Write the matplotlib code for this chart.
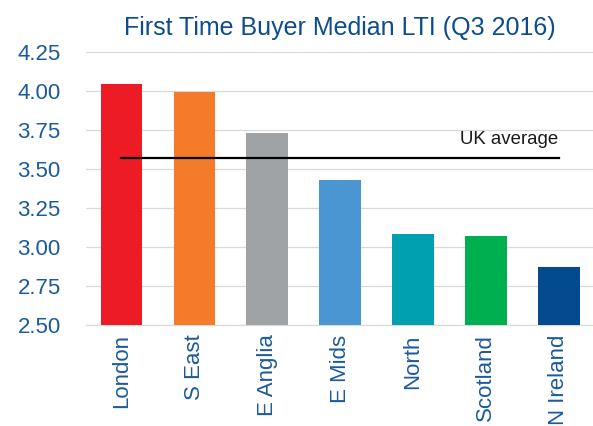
import matplotlib
matplotlib.use("Agg")
import matplotlib.pyplot as plt
import numpy as np

plt.rcParams['font.family'] = ['Liberation Sans', 'DejaVu Sans']

# data
regions = ['London', 'S East', 'E Anglia', 'E Mids', 'North', 'Scotland', 'N Ireland']
lti = [4.04, 3.99, 3.73, 3.43, 3.08, 3.07, 2.87]
uk_average = 3.57
bar_colors = ['#ED1C24', '#F47B2A', '#A0A3A6', '#4A96D3', '#00A0B0', '#00B050', '#034B8E']
yticks = [2.50, 2.75, 3.00, 3.25, 3.50, 3.75, 4.00, 4.25]

tick_blue = '#1B5A9C'
title_blue = '#0D4C8F'
grid_grey = '#D9D9D9'

fig = plt.figure(figsize=(5.93, 4.26), dpi=100)
ax = fig.add_axes([0.1445, 0.2378, 0.8555, 0.6408])

x = np.arange(len(regions))
ax.bar(x, lti, width=0.57, color=bar_colors, zorder=3)

# UK average line + label
ax.plot([x[0], x[-1]], [uk_average, uk_average], color='black', lw=1.6, zorder=4)
ax.annotate('UK average', xy=(x[-1], uk_average), xytext=(0, 7),
            textcoords='offset points', ha='right', va='bottom',
            fontsize=13.4, color='#1A1A1A')

ax.set_ylim(2.5, 4.25)
ax.set_xlim(-0.49, 6.47)
ax.set_yticks(yticks)
ax.set_yticklabels([f'{v:.2f}' for v in yticks])
ax.set_xticks(x)
ax.set_xticklabels(regions, rotation=90)

ax.yaxis.grid(True, color=grid_grey, lw=0.9, zorder=0)
ax.set_axisbelow(True)
for s in ['top', 'right', 'left']:
    ax.spines[s].set_visible(False)
ax.spines['bottom'].set_color(grid_grey)
ax.spines['bottom'].set_linewidth(0.9)

ax.tick_params(axis='y', length=0, pad=18, labelsize=16, labelcolor=tick_blue)
ax.tick_params(axis='x', length=0, pad=7, labelsize=16, labelcolor=tick_blue)

fig.text(340 / 593, 1 - 35 / 426, 'First Time Buyer Median LTI (Q3 2016)',
         ha='center', va='baseline', fontsize=18, color=title_blue)

fig.savefig('out.png', dpi=100)
